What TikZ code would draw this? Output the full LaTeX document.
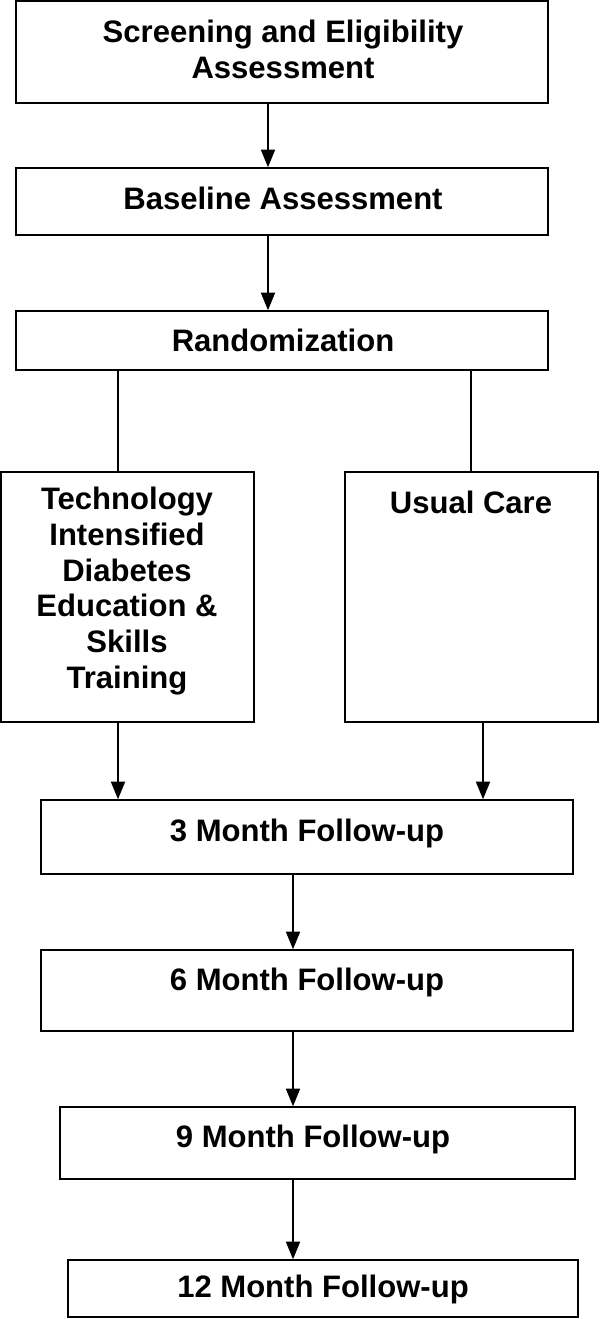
\documentclass[tikz,border=0pt]{standalone}
\usepackage{fontspec}
\setmainfont{Liberation Sans}
\usetikzlibrary{fit,arrows.meta}
\begin{document}
\begin{tikzpicture}[x=0.03cm,y=-0.03cm,
  box/.style={draw,line width=1.3pt,inner sep=0pt},
  txt/.style={inner sep=0pt,align=center,font=\fontsize{26.5}{30.6}\selectfont\bfseries},
  arr/.style={line width=1.3pt,-{Triangle[length=15pt,width=12pt]}},
  ln/.style={line width=1.3pt}]
\useasboundingbox (0,0) rectangle (600,1319);
\node[box,fit={(16,1)(548,103)}] (s) {};
\node[txt] (st) at (283,49) {Screening and Eligibility\\Assessment};
\node[box,fit={(16,168)(548,235)}] (b) {};
\node[txt] (bt) at (283,198) {Baseline Assessment};
\node[box,fit={(16,311)(548,370)}] (r) {};
\node[txt] (rt) at (283,340) {Randomization};
\node[box,fit={(1,472)(254,722)}] (t) {};
\node[txt] (tt) at (127,591) {Technology\\Intensified\\Diabetes\\Education \&\\Skills\\Training};
\node[box,fit={(345,472)(598,722)}] (u) {};
\node[txt] (ut) at (471,502) {Usual Care};
\node[box,fit={(41,800)(573,874)}] (m3) {};
\node[txt] (m3t) at (307,833) {3 Month Follow-up};
\node[box,fit={(41,950)(573,1031)}] (m6) {};
\node[txt] (m6t) at (307,982) {6 Month Follow-up};
\node[box,fit={(60,1107)(575,1179)}] (m9) {};
\node[txt] (m9t) at (313,1139) {9 Month Follow-up};
\node[box,fit={(68,1260)(578,1317)}] (m12) {};
\node[txt] (m12t) at (323,1289) {12 Month Follow-up};
\draw[arr] (s.south -| 268,0) -- (b.north -| 268,0);
\draw[arr] (b.south -| 268,0) -- (r.north -| 268,0);
\draw[ln] (r.south -| 118,0) -- (t.north -| 118,0);
\draw[ln] (r.south -| 471,0) -- (u.north -| 471,0);
\draw[arr] (t.south -| 118,0) -- (m3.north -| 118,0);
\draw[arr] (u.south -| 483,0) -- (m3.north -| 483,0);
\draw[arr] (m3.south -| 293,0) -- (m6.north -| 293,0);
\draw[arr] (m6.south -| 293,0) -- (m9.north -| 293,0);
\draw[arr] (m9.south -| 293,0) -- (m12.north -| 293,0);
\end{tikzpicture}
\end{document}
